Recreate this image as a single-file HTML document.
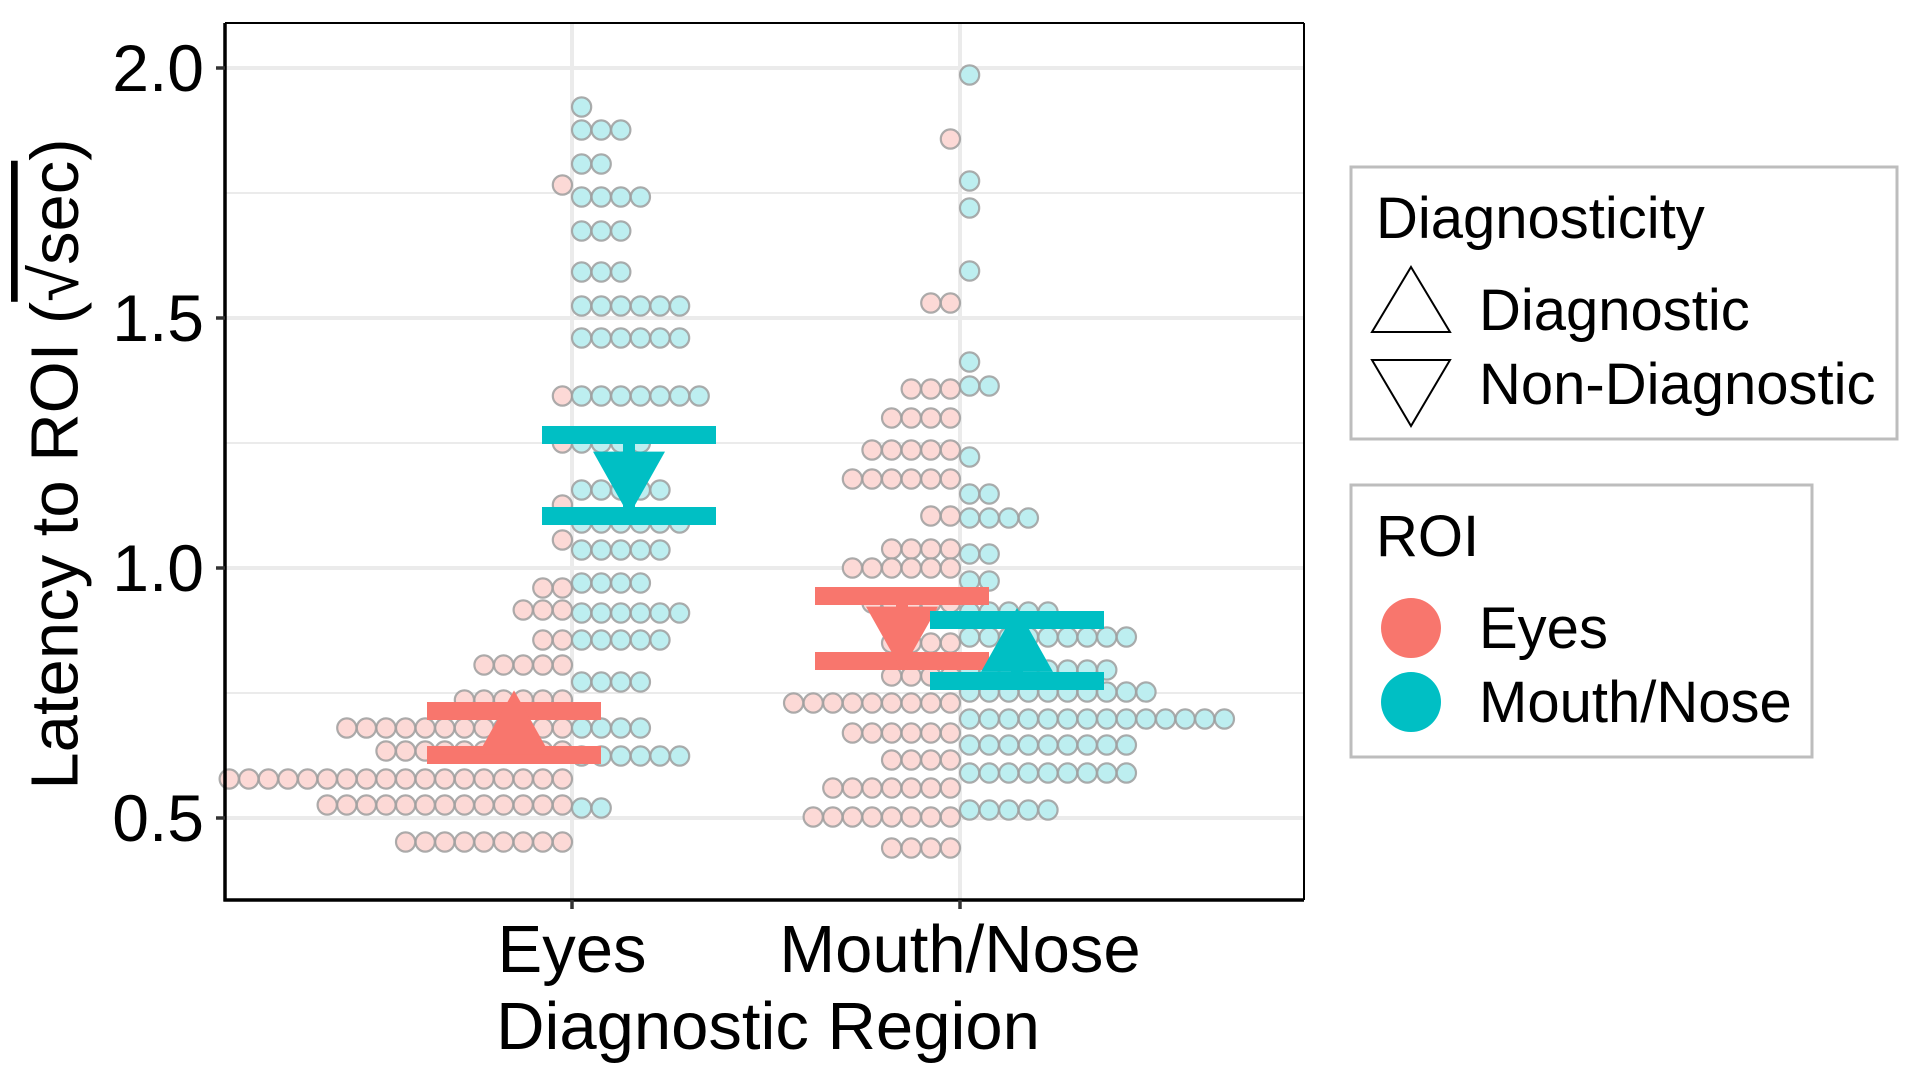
<!DOCTYPE html>
<html><head><meta charset="utf-8"><style>
html,body{margin:0;padding:0;background:#fff;}
svg{display:block;font-family:"Liberation Sans",Arial,sans-serif;}
</style></head><body>
<svg id="chart" width="1920" height="1080" viewBox="0 0 1920 1080">
<g id="grid"></g>
<g id="dots"></g>
<g id="means"></g>
<g id="axes"></g>
<text x="55" y="464" transform="rotate(-90 55 464)" text-anchor="middle" dominant-baseline="central" font-size="67" fill="#000">Latency to ROI (<tspan style="text-decoration:overline">√sec</tspan>)</text>
<text x="768" y="1049" text-anchor="middle" font-size="67" fill="#000">Diagnostic Region</text>
<g>
<rect x="1351" y="167" width="546" height="272" fill="#fff" stroke="#bdbdbd" stroke-width="3"/>
<text x="1376" y="238" font-size="58">Diagnosticity</text>
<polygon points="1411,267 1450,332 1372,332" fill="none" stroke="#000" stroke-width="2"/>
<text x="1479" y="330" font-size="58">Diagnostic</text>
<polygon points="1372,360 1450,360 1411,426" fill="none" stroke="#000" stroke-width="2"/>
<text x="1479" y="404" font-size="58">Non-Diagnostic</text>
</g>
<g>
<rect x="1351" y="485" width="461" height="272" fill="#fff" stroke="#bdbdbd" stroke-width="3"/>
<text x="1376" y="556" font-size="58">ROI</text>
<circle cx="1411" cy="628" r="30" fill="#F8766D"/>
<text x="1479" y="648" font-size="58">Eyes</text>
<circle cx="1411" cy="702" r="30" fill="#00BFC4"/>
<text x="1479" y="722" font-size="58">Mouth/Nose</text>
</g>
</svg>
<script>
// data
const categories = ["Eyes", "Mouth/Nose"];
const yTicks = [0.5, 1.0, 1.5, 2.0];
const yTickLabels = ["0.5", "1.0", "1.5", "2.0"];
const yMinor = [0.75, 1.25, 1.75];
// dot rows: value and count, per category/ROI
const eyesPinkVals = [1.766,1.344,1.25,1.126,1.056,0.96,0.916,0.856,0.806,0.736,0.68,0.634,0.578,0.526,0.452];
const eyesPinkCounts = [1,1,1,1,1,2,3,2,5,6,12,10,18,13,9];
const eyesTealVals = [1.922,1.876,1.808,1.742,1.674,1.592,1.524,1.46,1.344,1.25,1.156,1.09,1.036,0.97,0.91,0.856,0.772,0.68,0.624,0.52];
const eyesTealCounts = [1,3,2,4,3,3,6,6,7,4,5,6,5,4,6,5,4,4,6,2];
const mouthPinkVals = [1.858,1.53,1.358,1.3,1.236,1.178,1.104,1.038,1.0,0.93,0.85,0.784,0.73,0.67,0.616,0.56,0.502,0.44];
const mouthPinkCounts = [1,2,3,4,5,6,2,4,6,5,4,4,9,6,4,7,8,4];
const mouthTealVals = [1.986,1.774,1.72,1.594,1.412,1.364,1.222,1.148,1.1,1.028,0.974,0.912,0.862,0.796,0.752,0.698,0.646,0.59,0.516];
const mouthTealCounts = [1,1,1,1,1,2,1,2,4,2,2,5,9,8,10,14,9,9,5];
// means & error bars: [eyes-pink, eyes-teal, mouth-pink, mouth-teal]
const meanVals = [0.67, 1.19, 0.88, 0.835];
const upperVals = [0.714, 1.266, 0.944, 0.896];
const lowerVals = [0.626, 1.104, 0.814, 0.774];
const meanCat = [0, 0, 1, 1];
const meanRoi = ["eyes", "mouth", "eyes", "mouth"];
const meanShape = ["up", "down", "down", "up"];

const NS = "http://www.w3.org/2000/svg";
const PL = 225, PT = 23, PR = 1304, PB = 900;
function y(v){ return 818 - (v - 0.5) * 500; }
function x(i){ return [572, 960][i]; }
const COL = {eyes:"#F8766D", mouth:"#00BFC4"};
const FILL = {eyes:"#fcd9d6", mouth:"#bdeef0"};
function mk(tag, attrs, parent){ const e=document.createElementNS(NS,tag); for(const k in attrs) e.setAttribute(k,attrs[k]); parent.appendChild(e); return e; }

const grid = document.getElementById("grid");
mk("rect",{x:PL,y:PT,width:PR-PL,height:PB-PT,fill:"#fff"},grid);
yMinor.forEach(v=>{ const l=mk("line",{x1:PL,x2:PR,y1:y(v),y2:y(v),stroke:"#ebebeb","stroke-width":2},grid);

 });
yTicks.forEach(v=>{ const l=mk("line",{x1:PL,x2:PR,y1:y(v),y2:y(v),stroke:"#ebebeb","stroke-width":4},grid);

 });
categories.forEach((c,i)=>{ const l=mk("line",{x1:x(i),x2:x(i),y1:PT,y2:PB,stroke:"#ebebeb","stroke-width":4},grid);

 });

const dots = document.getElementById("dots");
const D = 19.6, R = 9.6;
function drawRows(vals, counts, cat, roi, dir){
  vals.forEach((v,j)=>{ for(let k=0;k<counts[j];k++){
    const cx = x(cat) + dir*(R + k*D);
    const c = mk("circle",{cx:cx,cy:y(v),r:R,fill:FILL[roi],stroke:"#9e9e9e","stroke-opacity":0.85,"stroke-width":2.2},dots);
    
    
  }});
}
drawRows(eyesPinkVals, eyesPinkCounts, 0, "eyes", -1);
drawRows(eyesTealVals, eyesTealCounts, 0, "mouth", 1);
drawRows(mouthPinkVals, mouthPinkCounts, 1, "eyes", -1);
drawRows(mouthTealVals, mouthTealCounts, 1, "mouth", 1);

const means = document.getElementById("means");
meanVals.forEach((m,i)=>{
  const cx = x(meanCat[i]) + (meanRoi[i]==="eyes" ? -58 : 57);
  const col = COL[meanRoi[i]];
  const hw = 87, bh = 18;
  [upperVals[i], lowerVals[i]].forEach((b,bi)=>{
    const r = mk("rect",{x:cx-hw,y:y(b)-bh/2,width:2*hw,height:bh,fill:col},means);
    
    
  });
  const st = mk("rect",{x:cx-6,y:y(upperVals[i]),width:12,height:y(lowerVals[i])-y(upperVals[i]),fill:col},means);
  
  
  const my = y(m), w = 36, h = 64;
  let pts;
  if(meanShape[i]==="up") pts = `${cx},${my-2*h/3} ${cx+w},${my+h/3} ${cx-w},${my+h/3}`;
  else pts = `${cx-w},${my-h/3} ${cx+w},${my-h/3} ${cx},${my+2*h/3}`;
  const p = mk("polygon",{points:pts,fill:col},means);
  
  
});

const axes = document.getElementById("axes");
mk("line",{x1:PL,x2:PR,y1:PT,y2:PT,stroke:"#000","stroke-width":2},axes);
mk("line",{x1:PR,x2:PR,y1:PT,y2:PB,stroke:"#000","stroke-width":2},axes);
const ya = mk("line",{x1:PL,x2:PL,y1:PT,y2:PB+1.5,stroke:"#000","stroke-width":3.5},axes);


const xa = mk("line",{x1:PL-1.5,x2:PR,y1:PB,y2:PB,stroke:"#000","stroke-width":3.5},axes);


yTicks.forEach((v,i)=>{
  mk("line",{x1:PL-9,x2:PL,y1:y(v),y2:y(v),stroke:"#333","stroke-width":3.5},axes);
  const t = mk("text",{x:204,y:y(v),"text-anchor":"end","dominant-baseline":"central","font-size":66,fill:"#000"},axes);
  t.textContent = yTickLabels[i];
  
  
});
categories.forEach((c,i)=>{
  mk("line",{x1:x(i),x2:x(i),y1:PB,y2:PB+9,stroke:"#333","stroke-width":3.5},axes);
  const t = mk("text",{x:x(i),y:972,"text-anchor":"middle","font-size":67,fill:"#000"},axes);
  t.textContent = c;
  
  
});
</script>
</body></html>
